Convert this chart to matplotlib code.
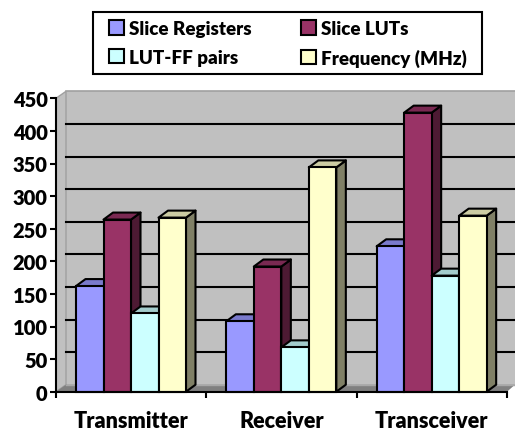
import matplotlib.pyplot as plt
from matplotlib.patches import Polygon, Rectangle
import numpy as np

categories = ['Transmitter', 'Receiver', 'Transceiver']
series_names = ['Slice Registers', 'Slice LUTs', 'LUT-FF pairs', 'Frequency (MHz)']
slice_registers = [162, 108, 223]
slice_luts = [264, 192, 428]
lut_ff_pairs = [120, 68, 178]
frequency = [267, 344, 270]
y_ticks = [0, 50, 100, 150, 200, 250, 300, 350, 400, 450]

front_colors = ['#9999FF', '#993366', '#CCFFFF', '#FFFFCC']
top_colors = ['#7A7ACC', '#7A2952', '#A3CCCC', '#CCCCA3']
side_colors = ['#5C5C99', '#4D1A33', '#7A9999', '#808066']

W, H = 515, 431
plt.rcParams['font.family'] = ['Lato', 'DejaVu Sans']
plt.rcParams['font.weight'] = 'heavy'

fig = plt.figure(figsize=(W / 100, H / 100), dpi=100)
# axes box = front plane of the fake 3d chart, pixels
x0, x1, y_top, y_bot = 56, 507, 99.3, 392.7
ax = fig.add_axes([x0 / W, 1 - y_bot / H, (x1 - x0) / W, (y_bot - y_top) / H])
ax.set_xlim(0, 3)
ax.set_ylim(0, 450)

dx = 3 * 10 / (x1 - x0)
dy = 450 * 7 / (y_bot - y_top)
dx_bar = dx * 0.95
bar_w = 3 * 27.5 / (x1 - x0)
gap = 3 * 20 / (x1 - x0)
right = 3 + 3 * 8 / (x1 - x0)

# walls and floor
ax.add_patch(Polygon([(dx, dy), (right, dy), (right, 450 + dy), (dx, 450 + dy)],
                     fc='#C0C0C0', ec='none', clip_on=False, zorder=1))
ax.add_patch(Polygon([(0, 0), (dx, dy), (dx, 450 + dy), (0, 450)],
                     fc='#C0C0C0', ec='#A0A0A0', lw=1, clip_on=False, zorder=1))
ax.add_patch(Polygon([(0, 0), (3, 0), (right, dy), (dx, dy)],
                     fc='#808080', ec='none', clip_on=False, zorder=1))
ax.plot([dx, right], [450 + dy, 450 + dy], color='#A0A0A0', lw=1.2, clip_on=False, zorder=2)
ax.plot([dx, right], [dy, dy], color='#A8A8A8', lw=1, clip_on=False, zorder=2)
for v in y_ticks[1:-1]:
    ax.plot([dx, right], [v + dy, v + dy], color='black', lw=1.5, clip_on=False, zorder=2)

values = [slice_registers, slice_luts, lut_ff_pairs, frequency]
for c in range(len(categories)):
    for s in range(len(series_names)):
        left = c + gap + s * bar_w
        v = values[s][c]
        rgt = left + bar_w
        # order: later series overlap the side of earlier ones
        z = 3 + s
        ax.add_patch(Polygon([(rgt, 0), (rgt + dx_bar, dy), (rgt + dx_bar, v + dy), (rgt, v)],
                             fc=side_colors[s], ec='black', lw=1.5, joinstyle='round',
                             clip_on=False, zorder=z))
        ax.add_patch(Polygon([(left, v), (left + dx_bar, v + dy), (rgt + dx_bar, v + dy), (rgt, v)],
                             fc=top_colors[s], ec='black', lw=1.5, joinstyle='round',
                             clip_on=False, zorder=z))
        ax.add_patch(Rectangle((left, 0), bar_w, v, fc=front_colors[s], ec='black', lw=1.5,
                               clip_on=False, zorder=z + 0.5))

for side in ('top', 'right'):
    ax.spines[side].set_visible(False)
for side in ('left', 'bottom'):
    ax.spines[side].set_linewidth(1.5)
    ax.spines[side].set_zorder(9)
ax.patch.set_visible(False)

ax.set_yticks(y_ticks)
ax.set_xticks(range(4))
ax.set_xticklabels([])
ax.tick_params(axis='both', length=4, width=1.5, labelsize=14.5)
ax.tick_params(axis='y', pad=2)
for c, name in enumerate(categories):
    ax.text(c + 0.5, -0.097, name, transform=ax.get_xaxis_transform(), ha='center', va='center',
            fontsize=15.5, clip_on=False)

# legend fills by column, so reorder to get the reference's rows
order = [0, 2, 1, 3]
handles = [Rectangle((0, 0), 1, 1, fc=front_colors[i], ec='black', lw=1.5) for i in order]
leg = fig.legend(handles, [series_names[i] for i in order], ncol=2, loc='center',
                 bbox_to_anchor=(288 / W, 1 - 44.5 / H),
                 fontsize=13.5, frameon=False,
                 handlelength=0.8, handleheight=0.8, handletextpad=0.3, columnspacing=2.6,
                 labelspacing=0.62, borderpad=0.6)
# frame drawn on its own, the legend one came out too tall
fig.add_artist(Rectangle((93 / W, 1 - 75 / H), 389 / W, 62 / H, transform=fig.transFigure,
                         fill=False, ec='black', lw=1.5))

fig.savefig('out.png', dpi=100)
